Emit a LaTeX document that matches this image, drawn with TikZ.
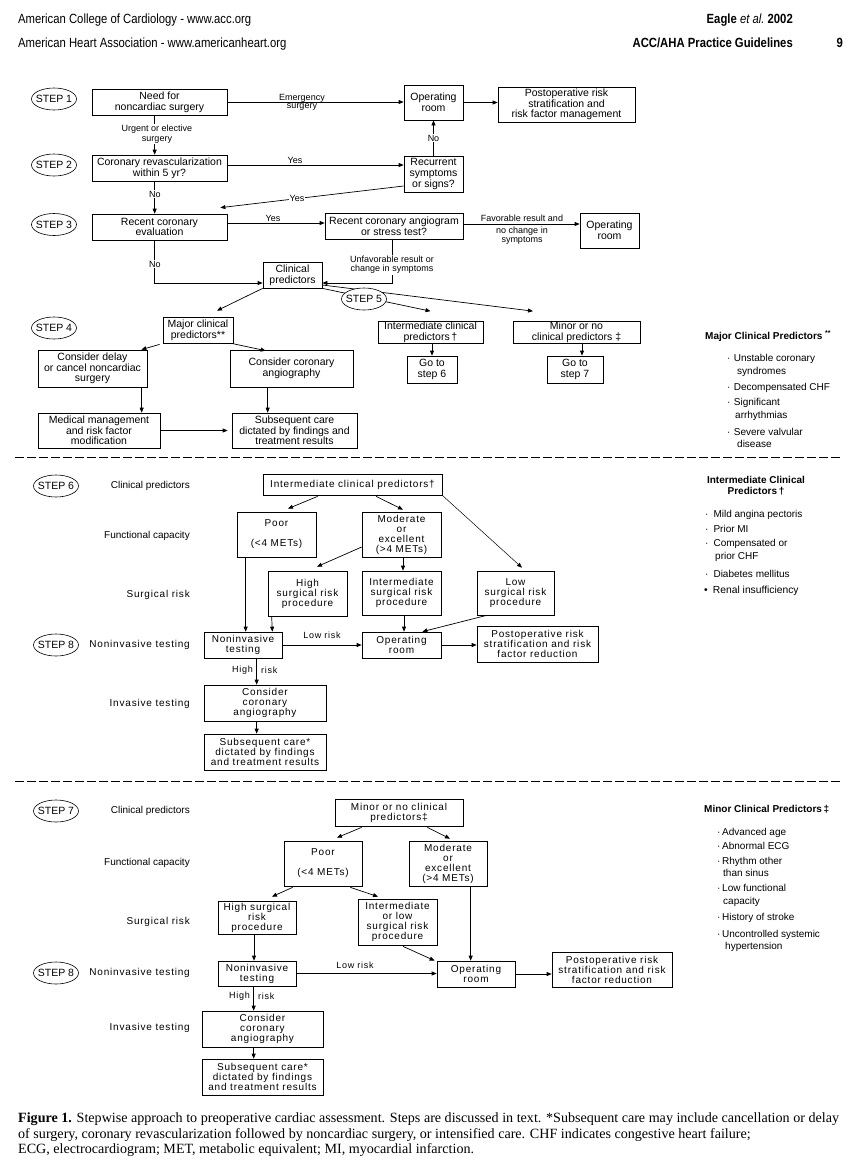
\documentclass[tikz,border=0pt]{standalone}
\usepackage{fontspec}
\setmainfont{Liberation Serif}
\newfontfamily\hs{Liberation Sans}
\newfontfamily\hsw[LetterSpace=8]{Liberation Sans}
\newfontfamily\hsn[FakeStretch=0.85]{Liberation Sans}
\usetikzlibrary{arrows.meta,shapes.geometric,calc}
\begin{document}
\begin{tikzpicture}[x=1pt,y=-1pt,
  bx/.style={draw,line width=0.7pt,inner sep=0pt,align=center},
  ta/.style={font=\hs\fontsize{10.5}{10.7}\selectfont},
  tw/.style={font=\hsw\fontsize{10}{10}\selectfont},
  stp/.style={draw,ellipse,line width=0.6pt,fill=white,inner xsep=-3pt,inner ysep=0pt,
     minimum width=45pt,minimum height=22pt,font=\hs\fontsize{10.5}{10.5}\selectfont},
  lbl/.style={font=\hs\fontsize{9}{9.6}\selectfont,align=center,inner sep=1pt},
  lblw/.style={font=\hsw\fontsize{9}{9}\selectfont,inner sep=1pt},
  wf/.style={fill=white},
  arr/.style={line width=0.7pt,-{Triangle[length=5pt,width=4pt]}},
  rowl/.style={anchor=east,inner sep=0pt,font=\hs\fontsize{10}{10}\selectfont},
  roww/.style={anchor=east,inner sep=0pt,font=\hsw\fontsize{10}{10}\selectfont},
  hdr/.style={inner sep=0pt,font=\hsn\fontsize{13.3}{15}\selectfont},
  lg/.style={anchor=base west,inner sep=0pt,font=\hs\fontsize{10}{10}\selectfont},
  lgt/.style={inner sep=0pt,font=\hs\bfseries\fontsize{10}{11}\selectfont},
  captn/.style={anchor=base west,inner sep=0pt,font=\rmfamily\fontsize{14.1}{15}\selectfont},
  dsh/.style={line width=1pt,dash pattern=on 9pt off 3pt}
]
\useasboundingbox (0,0) rectangle (853,1171);
\fill[white] (0,0) rectangle (853,1171);

% ---------- header ----------
\node[hdr,anchor=base west] (h1) at (18,23) {American College of Cardiology - www.acc.org};
\node[hdr,anchor=base west] (h2) at (18,47) {American Heart Association - www.americanheart.org};
\node[hdr,anchor=base east] (h3) at (793,23) {\bfseries Eagle \mdseries\itshape et al.\ \upshape\bfseries 2002};
\node[hdr,anchor=base east] (h4) at (793,47) {\bfseries ACC/AHA Practice Guidelines};
\node[hdr,anchor=base east] (h5) at (843,47) {\bfseries 9};

% ---------- top section boxes ----------
\node[bx,ta,minimum width=135pt,minimum height=26pt] (need) at (159.5,102) {Need for\\noncardiac surgery};
\node[bx,ta,minimum width=59pt,minimum height=35pt] (ortop) at (433.5,102.5) {Operating\\room};
\node[bx,ta,minimum width=137pt,minimum height=35pt] (post1) at (566.5,104.5) {Postoperative risk\\stratification and\\risk factor management};
\node[bx,ta,minimum width=135pt,minimum height=26pt] (crev) at (159.5,168) {Coronary revascularization\\within 5 yr?};
\node[bx,ta,minimum width=59pt,minimum height=36pt] (recur) at (433.5,174) {Recurrent\\symptoms\\or signs?};
\node[bx,ta,minimum width=135pt,minimum height=26pt] (rce) at (159.5,227) {Recent coronary\\evaluation};
\node[bx,ta,minimum width=138pt,minimum height=26pt] (rca) at (394,226) {Recent coronary angiogram\\or stress test?};
\node[bx,ta,minimum width=59pt,minimum height=35pt] (or2) at (609.5,230.5) {Operating\\room};
\node[bx,ta,minimum width=59pt,minimum height=26pt] (clin) at (292.5,275) {Clinical\\predictors};
\node[bx,ta,minimum width=70pt,minimum height=26pt] (major) at (198,330) {Major clinical\\predictors**};
\node[bx,ta,minimum width=105pt,minimum height=22pt] (inter) at (430.5,332.5) {Intermediate clinical\\predictors\,†};
\node[bx,ta,minimum width=127pt,minimum height=22pt] (minor) at (576.5,332.5) {Minor or no\\clinical predictors ‡};
\node[bx,ta,minimum width=50pt,minimum height=27pt] (go6) at (432,369.5) {Go to\\step 6};
\node[bx,ta,minimum width=56pt,minimum height=27pt] (go7) at (575,369.5) {Go to\\step 7};
\node[bx,ta,minimum width=109pt,minimum height=37pt] (delay) at (92.5,368.5) {Consider delay\\or cancel noncardiac\\surgery};
\node[bx,ta,minimum width=123pt,minimum height=37pt] (cang) at (291.5,368.5) {Consider coronary\\angiography};
\node[bx,ta,minimum width=122pt,minimum height=35pt] (med) at (99,430.5) {Medical management\\and risk factor\\modification};
\node[bx,ta,minimum width=125pt,minimum height=35pt] (subs) at (294.5,430.5) {Subsequent care\\dictated by findings and\\treatment results};

% ---------- top section connectors ----------
\draw[arr] (need.east) -- (need.east -| ortop.west);
\node[lbl,anchor=base] (lemg) at (302,100) {Emergency};
\node[lbl,anchor=north] (lsur) at (302,102.5) {surgery};
\draw[arr] (ortop.east) -- (ortop.east -| post1.west);
\draw[arr] ($(need.south west)+(63,0)$) -- ($(crev.north west)+(63,0)$);
\node[lbl,wf] (lurg) at (157,134) {Urgent or elective\\surgery};
\draw[arr] ($(crev.east)+(0,-3)$) -- ($(recur.west)+(0,-9)$);
\node[lbl,anchor=base] (lyes1) at (295,163.5) {Yes};
\draw[arr] (recur.north -| ortop.south) -- (ortop.south);
\node[lbl,wf] (lno1) at (433.5,138) {No};
\draw[arr] ($(recur.west)+(0,12)$) -- ($(rce.north east)+(-7,-6)$);
\node[lbl,wf] (lyes2) at (297,198.5) {Yes};
\draw[arr] ($(crev.south west)+(63,0)$) -- ($(rce.north west)+(63,0)$);
\node[lbl,wf] (lno2) at (155,194) {No};
\draw[arr] ($(rce.east)+(0,-4)$) -- ($(rca.west)+(0,-3)$);
\node[lbl,anchor=base] (lyes3) at (273,221) {Yes};
\draw[arr] ($(rca.east)+(0,-2)$) -- ($(or2.west)+(0,-6.5)$);
\node[lbl,anchor=base] (lfav1) at (522,221.5) {Favorable result and};
\node[lbl,anchor=north] (lfav2) at (522,225.5) {no change in\\symptoms};
\draw[arr] ($(rca.south)+(-2,0)$) |- ($(clin.east)+(0,8)$);
\node[lbl,wf] (lunf) at (392,264.5) {Unfavorable result or\\change in symptoms};
\draw[arr] ($(rce.south west)+(63,0)$) |- ($(clin.west)+(0,8)$);
\node[lbl,wf] (lno3) at (155,264) {No};
\draw[arr] (clin.south west) -- ($(major.north)+(19,-6)$);
\draw[arr] (clin.south east) -- ($(inter.north)+(0,-10)$);
\draw[arr] ($(clin.east)+(0,10)$) -- ($(minor.north)+(-43.5,-10)$);
\draw[arr] ($(major.south west)+(-3,1)$) -- ($(delay.north east)+(-6,0)$);
\draw[arr] ($(major.south east)+(-2,0)$) -- ($(cang.north west)+(36,1)$);
\draw[arr] (inter.south -| go6.north) -- (go6.north);
\draw[arr] ($(minor.south)+(5.5,0)$) -- ($(go7.north)+(7,0)$);
\draw[arr] ($(delay.south west)+(104,0)$) -- ($(med.north west)+(104,0)$);
\draw[arr] ($(cang.south west)+(38,0)$) -- ($(subs.north west)+(36,0)$);
\draw[arr] (med.east) -- ($(subs.west)+(-4,0)$);

% step ellipses (top)
\node[stp] (s1) at (54,99) {STEP 1};
\node[stp] (s2) at (54,165) {STEP 2};
\node[stp] (s3) at (54,224.5) {STEP 3};
\node[stp] (s4) at (54,328) {STEP 4};
\node[stp] (s5) at (364,299) {STEP 5};

% legend: major
\node[lgt,anchor=base west] (lgm) at (705,339) {Major Clinical Predictors \textsuperscript{**}};
\node[lg] (m1) at (727,361) {·\,\,Unstable coronary};
\node[lg] (m1b) at (737,374) {syndromes};
\node[lg] (m2) at (727,390) {·\,\,Decompensated CHF};
\node[lg] (m3) at (727,405) {·\,\,Significant};
\node[lg] (m3b) at (735,418) {arrhythmias};
\node[lg] (m4) at (727,435) {·\,\,Severe valvular};
\node[lg] (m4b) at (737,447) {disease};

% dashed separators
\draw[dsh] (15,457) -- (840,457);
\draw[dsh] (15,781) -- (840,781);

% ---------- STEP 6 section ----------
\node[stp] (s6) at (56,486) {STEP 6};
\node[stp] (s8a) at (56,645) {STEP 8};
\node[rowl] (r61) at (190,486) {Clinical predictors};
\node[rowl] (r62) at (190,536) {Functional capacity};
\node[roww] (r63) at (190,595) {Surgical risk};
\node[roww] (r64) at (190,645) {Noninvasive testing};
\node[roww] (r65) at (190,704) {Invasive testing};

\node[bx,tw,minimum width=179pt,minimum height=21pt] (ic6) at (352.5,484.5) {Intermediate clinical predictors†};
\node[bx,tw,minimum width=79pt,minimum height=45pt] (poor6) at (276.5,534.5) {Poor\\[10pt](<4 METs)};
\node[bx,tw,minimum width=79pt,minimum height=45pt] (mod6) at (401.5,534.5) {Moderate\\or\\excellent\\(>4 METs)};
\node[bx,tw,minimum width=79pt,minimum height=45pt] (hi6) at (307.5,593.5) {High\\surgical risk\\procedure};
\node[bx,tw,minimum width=79pt,minimum height=44pt] (int6) at (401.5,593) {Intermediate\\surgical risk\\procedure};
\node[bx,tw,minimum width=77pt,minimum height=44pt] (low6) at (515.5,593) {Low\\surgical risk\\procedure};
\node[bx,tw,minimum width=78pt,minimum height=26pt] (ni6) at (243,645) {Noninvasive\\testing};
\node[bx,tw,minimum width=79pt,minimum height=26pt] (or6) at (401.5,645) {Operating\\room};
\node[bx,tw,minimum width=121pt,minimum height=36pt] (post6) at (537.5,644) {Postoperative risk\\stratification and risk\\factor reduction};
\node[bx,tw,minimum width=122pt,minimum height=36pt] (cca6) at (265,703) {Consider\\coronary\\angiography};
\node[bx,tw,minimum width=122pt,minimum height=36pt] (sub6) at (265,752) {Subsequent care*\\dictated by findings\\and treatment results};

\draw[arr] ($(ic6.south west)+(55,1)$) -- ($(poor6.north)+(11.5,-3)$);
\draw[arr] ($(ic6.south)+(23.5,1)$) -- ($(mod6.north)+(1.5,-2)$);
\draw[arr,line width=0.5pt] (ic6.south east) -- ($(low6.north)+(6.5,-3)$);
\draw[arr] ($(mod6.west)+(0,12.5)$) -- ($(hi6.north)+(9.5,-4)$);
\draw[arr] ($(mod6.south)+(1.5,0)$) -- ($(int6.north)+(1.5,0)$);
\draw[arr] ($(poor6.south west)+(9,0)$) -- ($(ni6.north west)+(42,0)$);
\draw[arr] ($(hi6.south west)+(4,0)$) -- ($(ni6.north east)+(-10,0)$);
\draw[arr] ($(int6.south)+(2.5,0)$) -- ($(or6.north)+(2.5,0)$);
\draw[arr] ($(low6.south west)+(10,0)$) -- ($(or6.north east)+(-19,0)$);
\draw[arr] (ni6.east) -- (or6.west);
\node[lblw,anchor=base] (llr6) at (322,638.5) {Low risk};
\draw[arr] (or6.east) -- (or6.east -| post6.west);
\draw[arr] ($(ni6.south west)+(53,0)$) -- ($(cca6.north west)+(53,0)$);
\node[lblw,anchor=east] (lh6) at (254,670) {High};
\node[lblw,anchor=west] (lr6) at (260,670) {risk};
\draw[arr] ($(cca6.south west)+(53,0)$) -- ($(sub6.north west)+(53,0)$);

% legend: intermediate
\node[lgt,align=center] (lgi) at (756,486) {Intermediate Clinical\\Predictors\,†};
\node[lg] (i1) at (705,517) {·\,\,\,Mild angina pectoris};
\node[lg] (i2) at (705,532) {·\,\,\,Prior MI};
\node[lg] (i3) at (705,546) {·\,\,\,Compensated or};
\node[lg] (i3b) at (715,559) {prior CHF};
\node[lg] (i4) at (705,577) {·\,\,\,Diabetes mellitus};
\node[lg,font=\hs\fontsize{10.3}{10.3}\selectfont] (i5) at (704,593) {•\,\,\,Renal insufficiency};

% ---------- STEP 7 section ----------
\node[stp] (s7) at (56,811) {STEP 7};
\node[stp] (s8b) at (56,973) {STEP 8};
\node[rowl] (r71) at (190,811) {Clinical predictors};
\node[rowl] (r72) at (190,863) {Functional capacity};
\node[roww] (r73) at (190,922) {Surgical risk};
\node[roww] (r74) at (190,973) {Noninvasive testing};
\node[roww] (r75) at (190,1028) {Invasive testing};

\node[bx,tw,minimum width=128pt,minimum height=27pt] (min7) at (399,812.5) {Minor or no clinical\\predictors‡};
\node[bx,tw,minimum width=78pt,minimum height=45pt] (poor7) at (323,863.5) {Poor\\[10pt](<4 METs)};
\node[bx,tw,minimum width=78pt,minimum height=45pt] (mod7) at (448,863.5) {Moderate\\or\\excellent\\(>4 METs)};
\node[bx,tw,minimum width=78pt,minimum height=33pt] (hi7) at (257,917.5) {High surgical\\risk\\procedure};
\node[bx,tw,minimum width=79pt,minimum height=46pt] (il7) at (397.5,922) {Intermediate\\or low\\surgical risk\\procedure};
\node[bx,tw,minimum width=78pt,minimum height=25pt] (ni7) at (257,973.5) {Noninvasive\\testing};
\node[bx,tw,minimum width=78pt,minimum height=26pt] (or7) at (476,974) {Operating\\room};
\node[bx,tw,minimum width=120pt,minimum height=35pt] (post7) at (612,969.5) {Postoperative risk\\stratification and risk\\factor reduction};
\node[bx,tw,minimum width=121pt,minimum height=36pt] (cca7) at (262.5,1029) {Consider\\coronary\\angiography};
\node[bx,tw,minimum width=121pt,minimum height=36pt] (sub7) at (262.5,1077) {Subsequent care*\\dictated by findings\\and treatment results};

\draw[arr] ($(min7.south west)+(27,1)$) -- ($(poor7.north)+(14,-3)$);
\draw[arr] ($(min7.south east)+(-36,1)$) -- ($(mod7.north)+(2,-2)$);
\draw[arr] ($(poor7.south west)+(9,1)$) -- ($(hi7.north)+(15,-4)$);
\draw[arr] ($(poor7.south east)+(-12,1)$) -- ($(il7.north)+(-19.5,-2)$);
\draw[arr] ($(hi7.south)+(-3,0)$) -- ($(ni7.north)+(-3,0)$);
\draw[arr] (ni7.east) -- (ni7.east -| or7.west);
\node[lblw,anchor=base] (llr7) at (355,968.5) {Low risk};
\draw[arr] ($(mod7.south west)+(62,0)$) -- ($(or7.north west)+(34,0)$);
\draw[arr] ($(il7.south)+(5.5,1)$) -- ($(or7.north west)+(-2,0)$);
\draw[arr] (or7.east) -- (or7.east -| post7.west);
\draw[arr] ($(ni7.south west)+(36,0)$) -- ($(cca7.north west)+(52,0)$);
\node[lblw,anchor=east] (lh7) at (251,996) {High};
\node[lblw,anchor=west] (lr7) at (257,996) {risk};
\draw[arr] ($(cca7.south west)+(52,0)$) -- ($(sub7.north west)+(52,0)$);

% legend: minor
\node[lgt,anchor=base west] (lgn) at (704,812) {Minor Clinical Predictors\,‡};
\node[lg] (n1) at (717,835) {·\,Advanced age};
\node[lg] (n2) at (717,849) {·\,Abnormal ECG};
\node[lg] (n3) at (717,864) {·\,Rhythm other};
\node[lg] (n3b) at (723,876) {than sinus};
\node[lg] (n4) at (717,891) {·\,Low functional};
\node[lg] (n4b) at (723,904) {capacity};
\node[lg] (n5) at (717,920) {·\,History of stroke};
\node[lg] (n6) at (717,937) {·\,Uncontrolled systemic};
\node[lg] (n6b) at (725,949) {hypertension};

% ---------- caption ----------
\node[captn] (c1) at (18,1122.5) {\textbf{Figure 1.} Stepwise approach to preoperative cardiac assessment. Steps are discussed in text. *Subsequent care may include cancellation or delay};
\node[captn] (c2) at (18,1138) {of surgery, coronary revascularization followed by noncardiac surgery, or intensified care. CHF indicates congestive heart failure;};
\node[captn] (c3) at (18,1153.5) {ECG, electrocardiogram; MET, metabolic equivalent; MI, myocardial infarction.};
\end{tikzpicture}
\end{document}
